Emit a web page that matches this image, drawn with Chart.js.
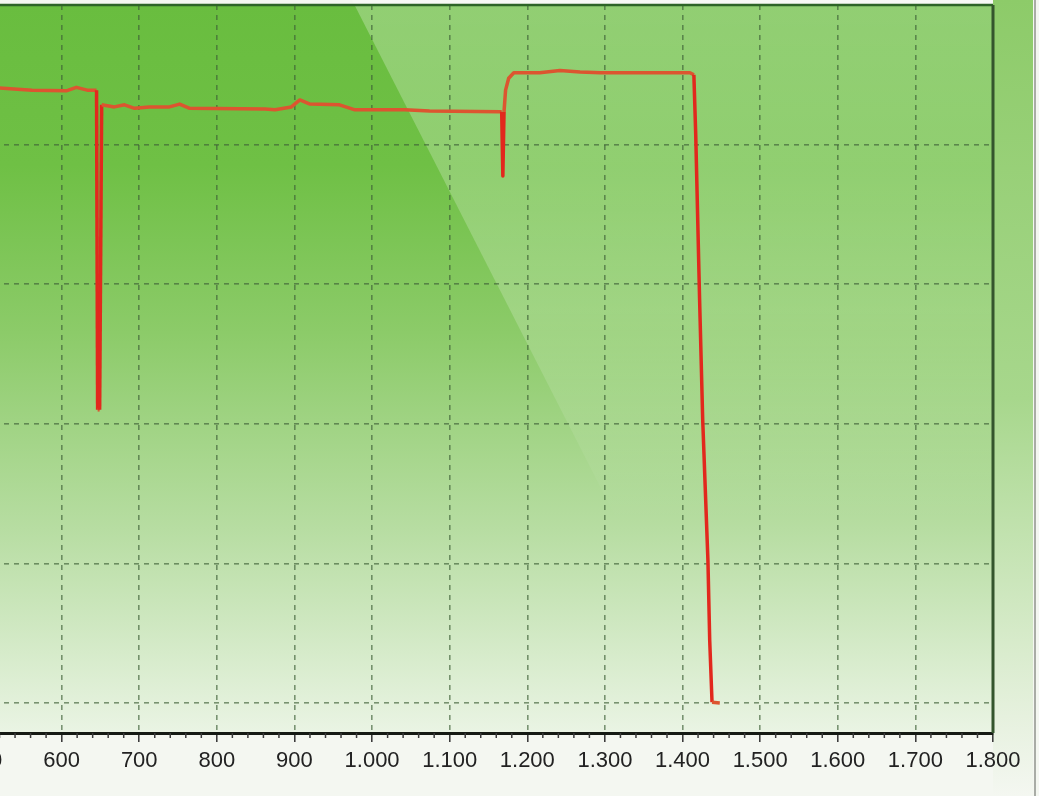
<!DOCTYPE html>
<html>
<head>
<meta charset="utf-8">
<script src="https://cdn.jsdelivr.net/npm/chart.js@4/dist/chart.umd.min.js"></script>
<style>
  html, body { margin: 0; padding: 0; overflow: hidden; background: #f4f7f1; }
  #wrap { position: absolute; left: -100px; top: 0; width: 1139px; height: 796px; }
</style>
</head>
<body>
<div id="wrap"><canvas id="chart" width="1139" height="796"></canvas></div>
<script>
// x ticks shown on the axis (left part of the chart is cropped)
const xTicks = [500, 600, 700, 800, 900, 1000, 1100, 1200, 1300, 1400, 1500, 1600, 1700, 1800];
const yTicks = [0, 20, 40, 60, 80, 100];

// red trace
const traceX = [500, 520, 562, 606, 619, 633, 642, 645, 646.4, 649, 651.6, 668, 681, 694, 713, 739, 752, 765,
                862, 875, 896, 907, 920, 958, 977, 1042, 1074, 1165, 1167, 1168.5, 1170, 1172, 1176, 1182.6,
                1216, 1242, 1268, 1294, 1409.5, 1414.6, 1417, 1422, 1426, 1432.7, 1435, 1438, 1448];
const traceY = [88.2, 88.1, 87.8, 87.7, 88.2, 87.8, 87.8, 87.8, 42.0, 42.0, 85.7, 85.4, 85.7, 85.2, 85.4, 85.4, 85.8, 85.2,
                85.1, 85.0, 85.4, 86.4, 85.8, 85.7, 85.0, 85.0, 84.8, 84.7, 84.7, 75.5, 84.7, 87.8, 89.5, 90.3,
                90.3, 90.6, 90.4, 90.3, 90.3, 90.0, 81.4, 57.7, 40.5, 20.5, 9.0, 0.1, 0];

const points = traceX.map((x, i) => ({ x: x, y: traceY[i] }));

const bgPlugin = {
    id: 'bg',
    beforeDraw(chart) {
        const ctx = chart.ctx;
        const a = chart.chartArea;
        const W = chart.width, H = chart.height;
        ctx.save();
        ctx.fillStyle = '#f4f7f1';
        ctx.fillRect(0, 0, W, H);

        // strip right of the plot
        let g = ctx.createLinearGradient(0, 0, 0, H);
        g.addColorStop(0, '#8dcb69');
        g.addColorStop(0.5, '#a7d78c');
        g.addColorStop(0.9, '#e6f1de');
        g.addColorStop(1, '#f4f7f1');
        ctx.fillStyle = g;
        ctx.fillRect(a.right, 0, W - 6 - a.right, H);

        // plot area
        g = ctx.createLinearGradient(0, a.top, 0, a.bottom);
        g.addColorStop(0, '#69bd3f');
        g.addColorStop(0.22, '#6fc045');
        g.addColorStop(0.45, '#8ccb69');
        g.addColorStop(0.72, '#b7dda2');
        g.addColorStop(1, '#eaf4e4');
        ctx.fillStyle = g;
        ctx.fillRect(a.left, a.top, a.right - a.left, a.bottom - a.top);

        // lighter diagonal band
        const x0 = 452;
        g = ctx.createLinearGradient(0, 0, 0, 520);
        g.addColorStop(0, 'rgba(255,255,255,0.27)');
        g.addColorStop(0.6, 'rgba(255,255,255,0.2)');
        g.addColorStop(1, 'rgba(255,255,255,0)');
        ctx.fillStyle = g;
        ctx.beginPath();
        ctx.moveTo(x0, 0);
        ctx.lineTo(a.right, 0);
        ctx.lineTo(a.right, 520);
        ctx.lineTo(x0 + 520 * 0.51, 520);
        ctx.closePath();
        ctx.fill();

        // frame edge on the right
        ctx.strokeStyle = '#a9aca6';
        ctx.lineWidth = 2;
        ctx.beginPath();
        ctx.moveTo(W - 4, 0);
        ctx.lineTo(W - 4, H);
        ctx.stroke();
        ctx.restore();
    },
    afterDraw(chart) {
        const ctx = chart.ctx;
        const a = chart.chartArea;
        const xs = chart.scales.x;
        ctx.save();
        // top and right borders
        ctx.strokeStyle = '#2d6427';
        ctx.lineWidth = 2.5;
        ctx.beginPath();
        ctx.moveTo(a.left, a.top);
        ctx.lineTo(a.right, a.top);
        ctx.stroke();
        ctx.strokeStyle = '#34552d';
        ctx.lineWidth = 3;
        ctx.beginPath();
        ctx.moveTo(a.right, a.top);
        ctx.lineTo(a.right, a.bottom);
        ctx.stroke();
        // minor ticks
        ctx.strokeStyle = '#3a3a3a';
        ctx.lineWidth = 1.5;
        for (let v = xs.min; v <= xs.max; v += 20) {
            if (v % 100 === 0) continue;
            const px = xs.getPixelForValue(v);
            ctx.beginPath();
            ctx.moveTo(px, a.bottom);
            ctx.lineTo(px, a.bottom + 5);
            ctx.stroke();
        }
        ctx.restore();
    }
};

function fmt(v) {
    return String(v).replace(/\B(?=(\d{3})+(?!\d))/g, '.');
}

new Chart(document.getElementById('chart'), {
    type: 'scatter',
    data: {
        datasets: [{
            data: points,
            showLine: true,
            pointRadius: 0,
            borderWidth: 3.5,
            borderColor: '#dc5530',
            borderJoinStyle: 'round',
            segment: {
                borderColor: c => Math.abs(c.p1.parsed.y - c.p0.parsed.y) > 5 ? '#e2281d' : '#dc5530'
            }
        }]
    },
    options: {
        responsive: false,
        animation: false,
        devicePixelRatio: 1,
        layout: { padding: { top: 5, right: 46, bottom: 0, left: 0 } },
        plugins: { legend: { display: false }, tooltip: { enabled: false } },
        scales: {
            x: {
                type: 'linear',
                min: 500,
                max: 1800,
                afterBuildTicks: s => { s.ticks = xTicks.map(v => ({ value: v })); },
                afterFit: s => { s.height = 63; },
                ticks: {
                    callback: v => fmt(v),
                    color: '#222',
                    font: { family: 'Liberation Sans', size: 22 },
                    padding: 6,
                    maxRotation: 0,
                    autoSkip: false
                },
                grid: {
                    color: 'rgba(62,95,55,0.65)',
                    lineWidth: 1.6,
                    tickLength: 9,
                    tickColor: '#333',
                    tickWidth: 1.5,
                    tickBorderDash: []
                },
                border: { display: true, color: '#151a14', width: 3, dash: [5, 5] }
            },
            y: {
                min: -4.3,
                max: 100,
                afterBuildTicks: s => { s.ticks = yTicks.map(v => ({ value: v })); },
                afterFit: s => { s.width = 84; },
                ticks: { display: false },
                grid: {
                    color: 'rgba(62,95,55,0.65)',
                    lineWidth: 1.6,
                    drawTicks: false
                },
                border: { display: false, dash: [5, 5] }
            }
        }
    },
    plugins: [bgPlugin]
});
</script>
</body>
</html>
